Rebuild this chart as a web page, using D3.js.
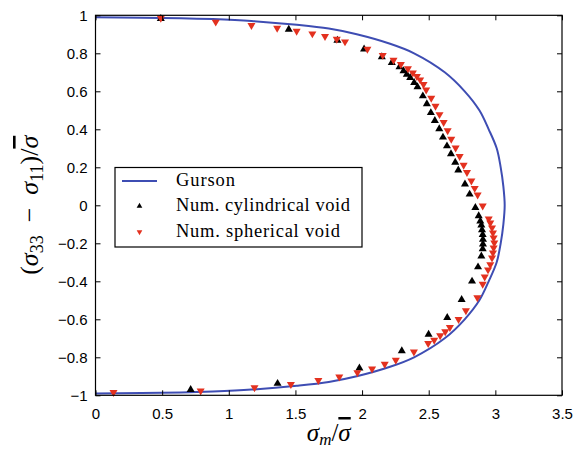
<!DOCTYPE html>
<html>
<head>
<meta charset="utf-8">
<script src="https://cdn.jsdelivr.net/npm/d3@7"></script>
<style>
  html, body { margin: 0; padding: 0; background: #fff; }
  svg { display: block; }
  .tick-label { font-family: "Liberation Sans", Arial, sans-serif; font-size: 15px; fill: #000; }
  .math { font-family: "Liberation Serif", "DejaVu Serif", serif; fill: #000; }
  .legend-text { font-family: "Liberation Serif", "DejaVu Serif", serif; font-size: 18.5px; fill: #000; }
</style>
</head>
<body>
<svg id="chart" width="583" height="452"></svg>
<script>
// Gurson yield surface (upper branch to lower branch)
const gursonX = [0, 0.64, 0.88, 1.17, 1.51, 1.75, 1.96, 2.21, 2.39, 2.62, 2.77, 2.88, 2.95, 3.01, 3.04, 3.06, 3.07,
                 3.06, 3.04, 3.01, 2.95, 2.88, 2.77, 2.62, 2.39, 2.21, 1.96, 1.75, 1.51, 1.17, 0.88, 0.64, 0];
const gursonY = [0.99, 0.985, 0.98, 0.97, 0.95, 0.93, 0.9, 0.85, 0.8, 0.7, 0.6, 0.5, 0.4, 0.3, 0.2, 0.1, 0,
                 -0.1, -0.2, -0.3, -0.4, -0.5, -0.6, -0.7, -0.8, -0.85, -0.9, -0.93, -0.95, -0.97, -0.98, -0.985, -0.99];

// Numerical results, cylindrical void
const cylX = [0.49, 1.45, 1.815, 2.015, 2.148, 2.223, 2.281, 2.311, 2.336, 2.361, 2.391, 2.416, 2.456, 2.486, 2.516,
              2.546, 2.579, 2.607, 2.637, 2.667, 2.699, 2.722, 2.772, 2.807, 2.85, 2.875, 2.887, 2.895, 2.9, 2.905,
              2.907, 2.907, 2.905, 2.895, 2.87, 2.825, 2.747, 2.639, 2.499, 2.298, 1.98, 1.366, 0.714];
const cylY = [0.982, 0.926, 0.868, 0.822, 0.781, 0.751, 0.728, 0.707, 0.689, 0.672, 0.646, 0.623, 0.575, 0.534, 0.487,
              0.446, 0.402, 0.358, 0.312, 0.27, 0.226, 0.185, 0.111, 0.058, -0.012, -0.056, -0.083, -0.105, -0.13, -0.155,
              -0.18, -0.205, -0.23, -0.268, -0.325, -0.40, -0.497, -0.591, -0.679, -0.766, -0.857, -0.938, -0.970];

// Numerical results, spherical void
const sphX = [0.49, 0.902, 1.17, 1.363, 1.509, 1.627, 1.722, 1.81, 1.872, 2.04, 2.155, 2.236, 2.291, 2.344, 2.381,
              2.411, 2.436, 2.461, 2.481, 2.519, 2.551, 2.581, 2.612, 2.642, 2.669, 2.702, 2.732, 2.762, 2.787, 2.82,
              2.845, 2.867, 2.905, 2.95, 2.962, 2.975, 2.982, 2.987, 2.992, 2.987, 2.982, 2.975, 2.962, 2.945, 2.92,
              2.905, 2.865, 2.779, 2.724, 2.659, 2.624, 2.586, 2.541, 2.496, 2.389, 2.253, 2.17, 2.075, 1.965, 1.829,
              1.672, 1.466, 1.193, 0.789, 0.135];
const sphY = [0.985, 0.965, 0.947, 0.933, 0.917, 0.903, 0.889, 0.875, 0.861, 0.822, 0.79, 0.764, 0.742, 0.72, 0.697,
              0.679, 0.661, 0.637, 0.608, 0.564, 0.522, 0.478, 0.437, 0.393, 0.349, 0.302, 0.258, 0.212, 0.173, 0.129,
              0.09, 0.055, -0.003, -0.071, -0.092, -0.118, -0.145, -0.171, -0.198, -0.224, -0.25, -0.277, -0.312, -0.339, -0.377,
              -0.415, -0.486, -0.554, -0.6, -0.642, -0.665, -0.686, -0.709, -0.727, -0.771, -0.815, -0.836, -0.861, -0.88, -0.903,
              -0.921, -0.942, -0.959, -0.977, -0.984];

const xTicks = [0, 0.5, 1, 1.5, 2, 2.5, 3, 3.5];
const yTicks = [-1, -0.8, -0.6, -0.4, -0.2, 0, 0.2, 0.4, 0.6, 0.8, 1];
const legendLabels = ["Gurson", "Num. cylindrical void", "Num. spherical void"];

const W = 583, H = 452;
const margin = { left: 95.5, top: 15.3, right: 21, bottom: 56.7 };
const x = d3.scaleLinear().domain([0, 3.5]).range([margin.left, W - margin.right]);
const y = d3.scaleLinear().domain([-1, 1]).range([H - margin.bottom, margin.top]);

const blue = "#3e4db3", red = "#e3311f";
const svg = d3.select("#chart");

const fmt = v => (v < 0 ? "\u2212" : "") + d3.format("~g")(Math.abs(v));

// Gurson curve
const gursonPts = gursonX.map((v, i) => [v, gursonY[i]]);
svg.append("path")
  .datum(gursonPts)
  .attr("fill", "none")
  .attr("stroke", blue)
  .attr("stroke-width", 2)
  .attr("d", d3.line().x(d => x(d[0])).y(d => y(d[1])).curve(d3.curveCatmullRom.alpha(0.5)));

// markers
const tri = d3.symbol().type(d3.symbolTriangle).size(28);
svg.append("g").selectAll("path")
  .data(cylX.map((v, i) => [v, cylY[i]]))
  .join("path")
  .attr("d", tri)
  .attr("transform", d => `translate(${x(d[0])},${y(d[1])})`)
  .attr("fill", "#000");

svg.append("g").selectAll("path")
  .data(sphX.map((v, i) => [v, sphY[i]]))
  .join("path")
  .attr("d", tri)
  .attr("transform", d => `translate(${x(d[0])},${y(d[1])}) rotate(180)`)
  .attr("fill", red);

// axes frame with inward ticks on all sides
const tickLen = 5;
const axisStyle = g => {
  g.select(".domain").remove();
  g.selectAll(".tick line").attr("stroke", "#000");
};
svg.append("g").attr("transform", `translate(0,${y(-1)})`)
  .call(d3.axisBottom(x).tickValues(xTicks).tickSize(-tickLen).tickPadding(13).tickFormat(fmt))
  .call(axisStyle)
  .call(g => g.selectAll("text").attr("class", "tick-label").attr("font-family", null).attr("font-size", null));
svg.append("g").attr("transform", `translate(0,${y(1)})`)
  .call(d3.axisTop(x).tickValues(xTicks).tickSize(-tickLen).tickFormat(""))
  .call(axisStyle);
svg.append("g").attr("transform", `translate(${x(0)},0)`)
  .call(d3.axisLeft(y).tickValues(yTicks).tickSize(-tickLen).tickPadding(8).tickFormat(fmt))
  .call(axisStyle)
  .call(g => g.selectAll("text").attr("class", "tick-label").attr("font-family", null).attr("font-size", null));
svg.append("g").attr("transform", `translate(${x(3.5)},0)`)
  .call(d3.axisRight(y).tickValues(yTicks).tickSize(-tickLen).tickFormat(""))
  .call(axisStyle);

svg.append("rect")
  .attr("x", x(0)).attr("y", y(1))
  .attr("width", x(3.5) - x(0)).attr("height", y(-1) - y(1))
  .attr("fill", "none").attr("stroke", "#000").attr("stroke-width", 1.2);

// axis titles
const xt = svg.append("text").attr("class", "math").attr("font-size", 25)
  .attr("x", (x(0) + x(3.5)) / 2).attr("y", 441).attr("text-anchor", "middle");
xt.append("tspan").attr("font-style", "italic").text("σ");
xt.append("tspan").attr("font-style", "italic").attr("font-size", 17).attr("dy", 4).text("m");
xt.append("tspan").attr("dy", -4).text("/");
xt.append("tspan").attr("font-style", "italic").attr("text-decoration", "overline").text("σ");

const yt = svg.append("text").attr("class", "math").attr("font-size", 26)
  .attr("text-anchor", "middle")
  .attr("transform", `translate(38,${(y(1) + y(-1)) / 2}) rotate(-90)`);
yt.append("tspan").text("(");
yt.append("tspan").attr("font-style", "italic").text("σ");
yt.append("tspan").attr("font-size", 18).attr("dy", 5).text("33");
yt.append("tspan").attr("dy", -5).text("\u2002\u2212\u2002");
yt.append("tspan").attr("font-style", "italic").text("σ");
yt.append("tspan").attr("font-size", 18).attr("dy", 5).text("11");
yt.append("tspan").attr("dy", -5).text(")/");
yt.append("tspan").attr("font-style", "italic").attr("text-decoration", "overline").text("σ");

// legend
const lg = svg.append("g");
lg.append("rect").attr("x", 115).attr("y", 167.5).attr("width", 247).attr("height", 79.5)
  .attr("fill", "#fff").attr("stroke", "#000").attr("stroke-width", 1.2);
const rowY = [181, 206, 232];
const labelWidths = [59, 174, 164];
lg.append("line").attr("x1", 122).attr("x2", 157).attr("y1", rowY[0]).attr("y2", rowY[0])
  .attr("stroke", blue).attr("stroke-width", 2);
const smallTri = d3.symbol().type(d3.symbolTriangle).size(14);
lg.append("path").attr("d", smallTri).attr("transform", `translate(139.5,${rowY[1]})`).attr("fill", "#000");
lg.append("path").attr("d", smallTri).attr("transform", `translate(139.5,${rowY[2]}) rotate(180)`).attr("fill", red);
lg.selectAll("text.legend-text").data(legendLabels).join("text")
  .attr("class", "legend-text")
  .attr("x", 176).attr("y", (d, i) => rowY[i] + 5)
  .attr("textLength", (d, i) => labelWidths[i])
  .attr("lengthAdjust", "spacing")
  .text(d => d);
</script>
</body>
</html>
